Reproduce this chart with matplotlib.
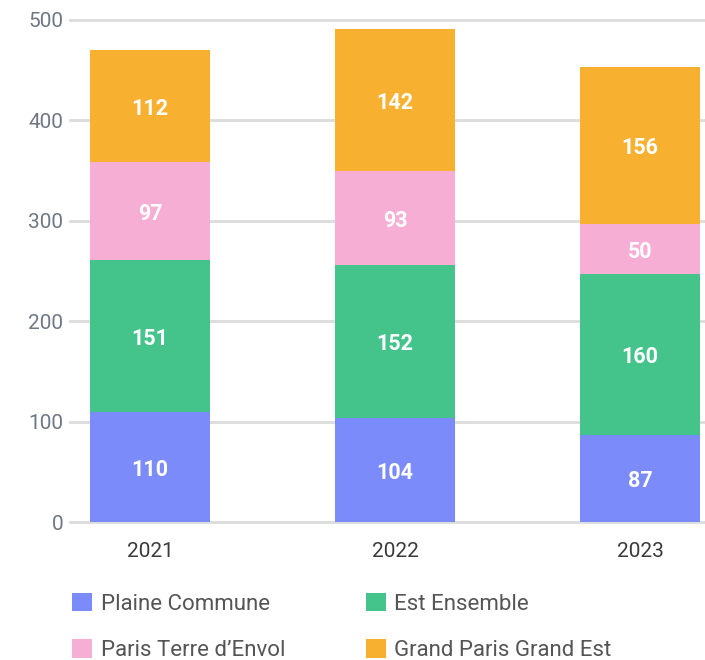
import matplotlib.pyplot as plt
import numpy as np

plt.rcParams['font.family'] = ['Roboto', 'DejaVu Sans']

years = ['2021', '2022', '2023']
plaine_commune = [110, 104, 87]
est_ensemble = [151, 152, 160]
paris_terre = [97, 93, 50]
grand_paris = [112, 142, 156]

series = [
    ('Plaine Commune', plaine_commune, '#7b8bf9'),
    ('Est Ensemble', est_ensemble, '#44c48b'),
    ("Paris Terre d\u2019Envol", paris_terre, '#f6aed4'),
    ('Grand Paris Grand Est', grand_paris, '#f8b030'),
]

fig = plt.figure(figsize=(7.05, 6.6), dpi=100)
ax = fig.add_axes([0.0993, 0.209, 0.9007, 0.761])

x = np.arange(len(years))
bottom = np.zeros(len(years))
handles = []
for name, vals, col in series:
    b = ax.bar(x, vals, width=0.49, bottom=bottom, color=col, label=name, zorder=2)
    handles.append(b)
    for xi, bi, v in zip(x, bottom, vals):
        ax.text(xi, bi + v / 2 - 3, str(v), ha='center', va='center', color='white',
                fontsize=15.5, fontweight='bold', zorder=3)
    bottom += np.array(vals)

ax.set_xlim(-0.327, 2.265)
ax.set_ylim(0, 500)
ax.set_yticks([0, 100, 200, 300, 400, 500])
ax.yaxis.grid(True, color='#dcdcdc', linewidth=2, zorder=0)
ax.set_axisbelow(True)
for s in ax.spines.values():
    s.set_visible(False)
ax.tick_params(axis='y', length=0, pad=5, labelsize=15, labelcolor='#707784')
ax.tick_params(axis='x', length=0, pad=14, labelsize=15, labelcolor='#3a3a3a')
ax.set_xticks(x)
ax.set_xticklabels(years)
for gl in ax.get_ygridlines():
    gl.set_clip_on(False)

# column-wise fill: reorder so rows read PC/EE then PTE/GPGE
order = [0, 2, 1, 3]
fig.legend(handles=[handles[i] for i in order], loc='lower left',
           bbox_to_anchor=(0.074, -0.032), ncol=2,
           frameon=False, fontsize=16, labelcolor='#555555', handlelength=0.9,
           handleheight=0.9, handletextpad=0.4, columnspacing=3.6, labelspacing=1.1)

fig.savefig('out.png', dpi=100)
